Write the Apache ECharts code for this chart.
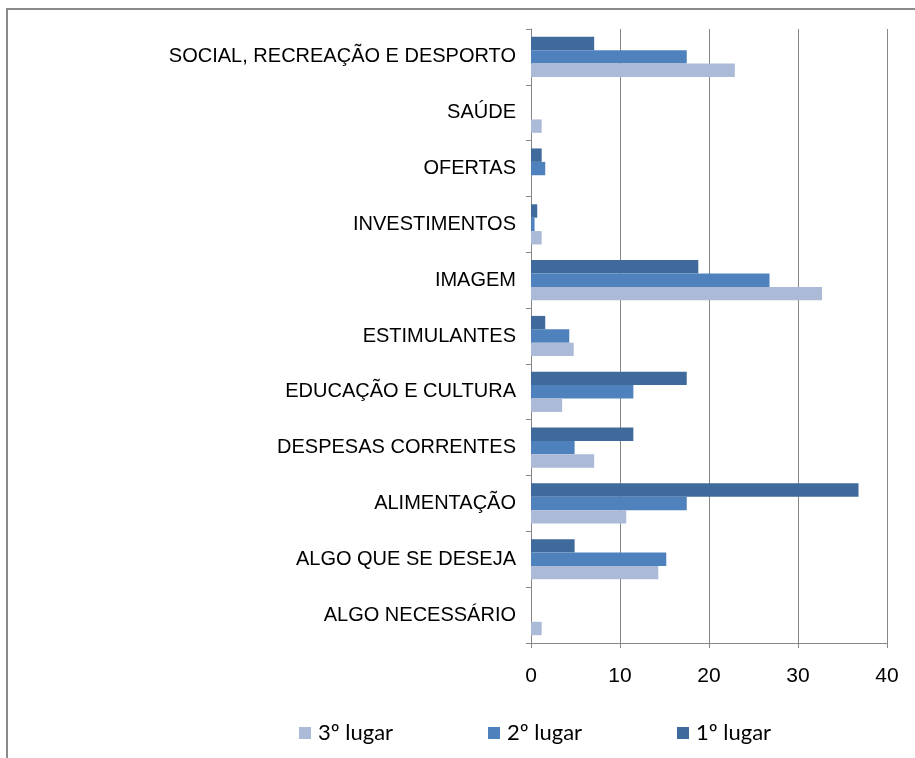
<!DOCTYPE html>
<html>
<head>
<meta charset="utf-8">
<script src="https://cdn.jsdelivr.net/npm/echarts@6/dist/echarts.min.js"></script>
<style>
  html, body { margin: 0; padding: 0; background: #fff; }
  #chart { width: 915px; height: 758px; }
</style>
</head>
<body>
<div id="chart"></div>
<script>
// Categories, listed bottom to top
const categories = [
  'ALGO NECESSÁRIO',
  'ALGO QUE SE DESEJA',
  'ALIMENTAÇÃO',
  'DESPESAS CORRENTES',
  'EDUCAÇÃO E CULTURA',
  'ESTIMULANTES',
  'IMAGEM',
  'INVESTIMENTOS',
  'OFERTAS',
  'SAÚDE',
  'SOCIAL, RECREAÇÃO E DESPORTO'
];

const seriesNames = ['3º lugar', '2º lugar', '1º lugar'];

const terceiro = [1.2, 14.3, 10.7, 7.1, 3.5, 4.8, 32.7, 1.2, 0, 1.2, 22.9];
const segundo  = [0, 15.2, 17.5, 4.9, 11.5, 4.3, 26.8, 0.4, 1.6, 0, 17.5];
const primeiro = [0, 4.9, 36.8, 11.5, 17.5, 1.6, 18.8, 0.7, 1.2, 0, 7.1];

const xTicks = [0, 10, 20, 30, 40];

const colors = ['#ABBAD7', '#4F81BD', '#3F6A9B'];
const axisGray = '#868686';

const chart = echarts.init(document.getElementById('chart'), null, { renderer: 'canvas' });

const values = [terceiro, segundo, primeiro];

const legendLefts = [299, 488, 677];

// Within each band the first series sits on top, so series are added 1º, 2º, 3º
const drawOrder = [2, 1, 0];

chart.setOption({
  animation: false,
  backgroundColor: '#ffffff',
  graphic: [{
    type: 'rect',
    shape: { x: 7, y: 9, width: 1000, height: 1000 },
    style: { fill: 'none', stroke: '#8a8a8a', lineWidth: 2 },
    silent: true
  }],
  legend: seriesNames.map((name, i) => ({
    data: [name],
    left: legendLefts[i],
    top: 722,
    padding: 0,
    itemWidth: 12,
    itemHeight: 12,
    itemGap: 0,
    icon: 'rect',
    textStyle: { fontFamily: 'Lato', fontSize: 22, color: '#000', padding: [0, 0, 0, 2] }
  })),
  grid: { left: 531, right: 28, top: 29, bottom: 115, containLabel: false },
  xAxis: {
    type: 'value',
    min: xTicks[0],
    max: xTicks[xTicks.length - 1],
    interval: 10,
    axisLine: { show: true, lineStyle: { color: axisGray, width: 1 } },
    axisTick: { show: true, length: 5, lineStyle: { color: axisGray } },
    splitLine: { show: true, lineStyle: { color: axisGray, width: 1 } },
    axisLabel: { margin: 23, fontFamily: 'Liberation Sans', fontSize: 21, color: '#000' }
  },
  yAxis: {
    type: 'category',
    data: categories,
    axisLine: { show: true, lineStyle: { color: axisGray, width: 1 } },
    axisTick: { show: true, length: 5, lineStyle: { color: axisGray } },
    axisLabel: { margin: 15, fontFamily: 'Liberation Sans', fontSize: 20, color: '#000' }
  },
  series: drawOrder.map(i => ({
    name: seriesNames[i],
    type: 'bar',
    data: values[i],
    barGap: '0%',
    barCategoryGap: '28%',
    itemStyle: { color: colors[i] }
  }))
});
</script>
</body>
</html>
